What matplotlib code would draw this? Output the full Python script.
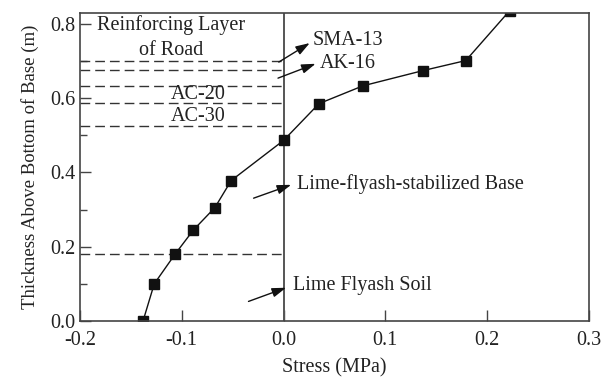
import matplotlib
matplotlib.use("Agg")
import matplotlib.pyplot as plt
from matplotlib.ticker import MultipleLocator

# stress profile through the pavement
stress = [-0.138, -0.127, -0.1065, -0.0885, -0.0675, -0.0514, 0.0, 0.0348, 0.078, 0.137, 0.179, 0.222]
thickness = [0.0, 0.10, 0.18, 0.245, 0.305, 0.378, 0.486, 0.585, 0.633, 0.674, 0.701, 0.835]

# layer boundaries drawn as dashed lines
layer_tops = [0.70, 0.676, 0.633, 0.588, 0.525, 0.18]

# labels with arrows: text, text position, arrow tail, arrow head
arrow_labels = ["SMA-13", "AK-16", "Lime-flyash-stabilized Base", "Lime Flyash Soil"]
arrow_text_xy = [(0.029, 0.755), (0.036, 0.692), (0.013, 0.369), (0.009, 0.095)]
arrow_tail_xy = [(-0.007, 0.693), (-0.008, 0.651), (-0.032, 0.328), (-0.037, 0.05)]
arrow_head_xy = [(0.028, 0.752), (0.034, 0.695), (0.010, 0.369), (0.005, 0.092)]

plt.rcParams['font.family'] = ['Liberation Serif', 'DejaVu Serif']
plt.rcParams['font.size'] = 14.5

fig = plt.figure(figsize=(6.01, 3.83), dpi=100)
ax = fig.add_axes([0.133, 0.162, 0.847, 0.805])

for y in layer_tops:
    ax.plot([-0.2, 0.0], [y, y], color='#333333', lw=1.0, dashes=(7, 3.6))

ax.axvline(0.0, color='#555555', lw=1.4)

line, = ax.plot(stress, thickness, color='#111111', lw=1.0, marker='s', markersize=7,
                markerfacecolor='#111111', markeredgecolor='#111111')
line.set_clip_on(True)

for txt, xy_t, tail, head in zip(arrow_labels, arrow_text_xy, arrow_tail_xy, arrow_head_xy):
    ax.annotate('', xy=head, xytext=tail,
                arrowprops=dict(arrowstyle='-|>,head_length=0.6,head_width=0.2', color='#111111',
                                lw=1.0, mutation_scale=14))
    ax.text(xy_t[0], xy_t[1], txt, ha='left', va='center', color='#222222')

ax.text(-0.110, 0.797, "Reinforcing Layer", ha='center', va='center', color='#222222')
ax.text(-0.110, 0.727, "of Road", ha='center', va='center', color='#222222')
ax.text(-0.084, 0.609, "AC-20", ha='center', va='center', color='#222222')
ax.text(-0.084, 0.551, "AC-30", ha='center', va='center', color='#222222')

ax.set_xlim(-0.2, 0.3)
ax.set_ylim(0.0, 0.83)
ax.xaxis.set_major_locator(MultipleLocator(0.1))
ax.yaxis.set_major_locator(MultipleLocator(0.2))
ax.yaxis.set_minor_locator(MultipleLocator(0.1))
ax.xaxis.set_major_formatter(plt.FormatStrFormatter('%.1f'))
ax.yaxis.set_major_formatter(plt.FormatStrFormatter('%.1f'))
ax.tick_params(which='major', direction='in', length=8, width=1, color='#444444', labelcolor='#222222')
ax.tick_params(which='minor', direction='in', length=5, width=1, color='#444444')
ax.tick_params(axis='x', pad=7)
for s in ax.spines.values():
    s.set_color('#444444')
    s.set_linewidth(1.2)

ax.set_xlabel('Stress (MPa)', color='#222222', labelpad=6)
ax.set_ylabel('Thickness Above Bottom of Base (m)', color='#222222', fontsize=13.5, labelpad=8)

fig.savefig('out.png', dpi=100)
